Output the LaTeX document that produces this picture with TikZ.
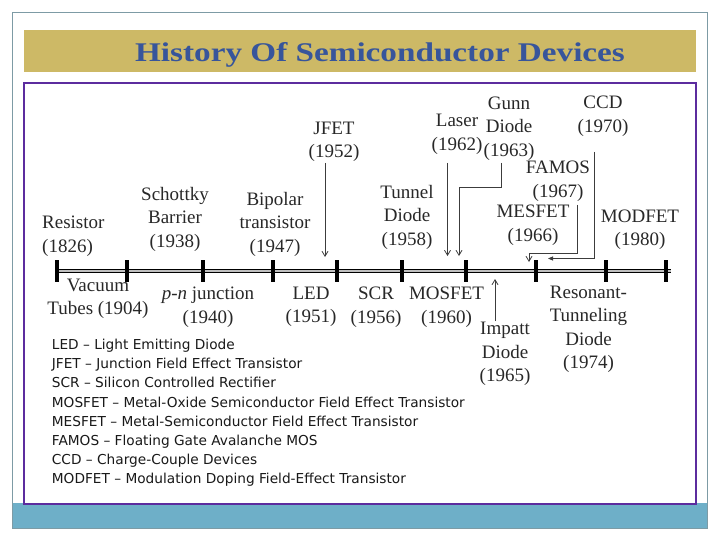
\documentclass[tikz,border=0pt]{standalone}
\usepackage{fontspec}
\usepackage{graphicx}
\setmainfont{Liberation Serif}
\newfontfamily\listfont{DejaVu Sans}
\usetikzlibrary{arrows.meta}
\definecolor{gold}{RGB}{205,185,102}
\definecolor{titleblue}{RGB}{55,85,155}
\definecolor{framepurple}{RGB}{92,44,158}
\definecolor{barblue}{RGB}{110,175,200}
\definecolor{outergray}{RGB}{125,155,165}
\definecolor{lbltext}{RGB}{40,40,40}
\definecolor{arrgray}{RGB}{60,60,60}
\begin{document}
\begin{tikzpicture}[x=1pt,y=-1pt,
 lbl/.style={font=\fontsize{19}{23.5}\selectfont, align=center, text=lbltext, inner sep=0pt},
 abbr/.style={font=\listfont\fontsize{13.7}{16}\selectfont, anchor=base west, inner sep=0pt, text=black!90},
 arr/.style={draw=arrgray, line width=0.8pt, -{Straight Barb[length=5pt,width=6pt]}},
 arrf/.style={draw=arrgray, line width=0.8pt, -{Triangle[length=5pt,width=4pt]}},
 tickmark/.style={line width=3.5pt},
]
\useasboundingbox (0,0) rectangle (720,540);
\fill[white] (0,0) rectangle (720,540);
\fill[barblue] (12.5,503) rectangle (707.5,528);
\draw[outergray, line width=1pt] (12.5,12.5) rectangle (707.5,528);
\fill[gold] (24,30) rectangle (696,72);
\node[anchor=base, text=titleblue, font=\fontsize{27}{30}\selectfont\bfseries, inner sep=0pt] (title) at (380,62) {\scalebox{1.23}[1]{History Of Semiconductor Devices}};
\draw[framepurple, line width=2pt] (24,83) rectangle (696,503.5);

% timeline
\coordinate (tlA) at (57,271);
\coordinate (tlB) at (671,271);
\draw[line width=1.2pt, double=white!75!black, double distance=1.3pt] (tlA) -- (tlB);
\foreach \x in {57,127,203,273,337,402,466,536,606,666}
  \draw[tickmark] (\x,260) -- (\x,282);

% labels above
\node[lbl, align=left, anchor=west] (resistor) at (42,236) {Resistor\\(1826)};
\node[lbl] (schottky) at (175,219) {Schottky\\Barrier\\(1938)};
\node[lbl] (bipolar) at (275,224) {Bipolar\\transistor\\(1947)};
\node[lbl] (jfet) at (334,142) {JFET\\(1952)};
\node[lbl] (tunnel) at (407,217) {Tunnel\\Diode\\(1958)};
\node[lbl] (laser) at (457,134.5) {Laser\\(1962)};
\node[lbl] (gunn) at (509,128.5) {Gunn\\Diode\\(1963)};
\node[lbl] (ccd) at (603,116) {CCD\\(1970)};
\node[lbl] (famos) at (558,181) {FAMOS\\(1967)};
\node[lbl] (mesfet) at (533,225) {MESFET\\(1966)};
\node[lbl] (modfet) at (640,229.5) {MODFET\\(1980)};

% labels below
\node[lbl] (vacuum) at (98,299) {Vacuum\\Tubes (1904)};
\node[lbl] (pn) at (208,307) {\textit{p-n} junction\\(1940)};
\node[lbl] (led) at (311,307) {LED\\(1951)};
\node[lbl] (scr) at (376,307) {SCR\\(1956)};
\node[lbl] (mosfet) at (446.5,307) {MOSFET\\(1960)};
\node[lbl] (impatt) at (505,354) {Impatt\\Diode\\(1965)};
\node[lbl] (rtd) at (588.5,329.5) {Resonant-\\Tunneling\\Diode\\(1974)};

% arrows
\coordinate (jfetS) at (325,163);
\coordinate (jfetE) at (325,257);
\draw[arr] (jfetS) -- (jfetE);
\coordinate (laserS) at (447.5,163);
\coordinate (laserE) at (447.5,256);
\draw[arr] (laserS) -- (laserE);
\coordinate (gunnS) at (501,163);
\coordinate (gunnK) at (459,187);
\coordinate (gunnE) at (459,256);
\draw[arr] (gunnS) |- (gunnK) -- (gunnE);
\coordinate (famosS) at (577.5,205);
\coordinate (famosK) at (529,253);
\coordinate (famosE) at (529,262);
\draw[arr] (famosS) |- (famosK) -- (famosE);
\coordinate (ccdS) at (594,152);
\coordinate (ccdE) at (548,258.5);
\draw[arrf] (ccdS) |- (ccdE);
\coordinate (impattS) at (495,321);
\coordinate (impattE) at (495,279);
\draw[arr] (impattS) -- (impattE);

% abbreviations
\node[abbr] (ab1) at (51.7,349.7) {LED – Light Emitting Diode};
\node[abbr] (ab2) at (51.7,368.8) {JFET – Junction Field Effect Transistor};
\node[abbr] (ab3) at (51.7,387.9) {SCR – Silicon Controlled Rectifier};
\node[abbr] (ab4) at (51.7,407.0) {MOSFET – Metal-Oxide Semiconductor Field Effect Transistor};
\node[abbr] (ab5) at (51.7,426.1) {MESFET – Metal-Semiconductor Field Effect Transistor};
\node[abbr] (ab6) at (51.7,445.2) {FAMOS – Floating Gate Avalanche MOS};
\node[abbr] (ab7) at (51.7,464.3) {CCD – Charge-Couple Devices};
\node[abbr] (ab8) at (51.7,483.4) {MODFET – Modulation Doping Field-Effect Transistor};
\end{tikzpicture}
\end{document}
